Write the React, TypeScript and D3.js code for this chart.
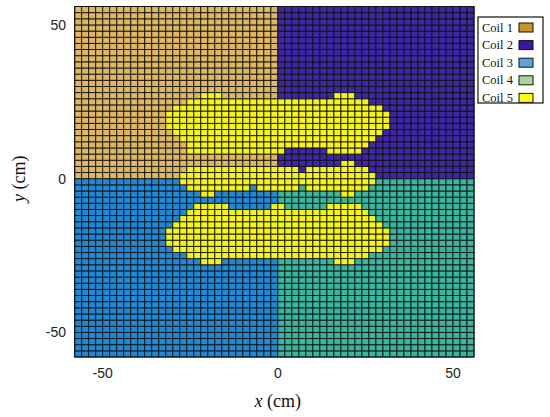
import React from 'react';
import * as d3 from 'd3';

// coil names + colours (legend swatches differ from the map colours, as in the source figure)
const coilNames = ['Coil 1', 'Coil 2', 'Coil 3', 'Coil 4', 'Coil 5'];
const legendColors = ['#c8961e', '#3c14a8', '#5aa5dc', '#a8d898', '#ffff00'];
const cellColors = ['#dfb75e', '#3e26a8', '#1d8ad8', '#35b89f', '#f7f70c'];

const xTicks = [-50, 0, 50];
const yTicks = [-50, 0, 50];

// cell centres (cm), 2 cm pitch
const cellX = d3.range(-57, 56, 2);
const cellY = d3.range(-57, 56, 2);

// coil 5 cells: for each row (y centre, cm) the x-centre spans that belong to coil 5
const coil5Rows: [number, [number, number][]][] = [
  [27, [[-21, -17], [17, 21]]],
  [25, [[-25, 25]]],
  [23, [[-29, 29]]],
  [21, [[-31, 31]]],
  [19, [[-31, 31]]],
  [17, [[-31, 31]]],
  [15, [[-29, 29]]],
  [13, [[-27, 27]]],
  [11, [[-25, 25]]],
  [9, [[-25, 1], [15, 23]]],
  [5, [[19, 21]]],
  [3, [[-25, 5], [9, 25]]],
  [1, [[-27, 27]]],
  [-1, [[-27, 27]]],
  [-3, [[-25, -9], [-5, 5], [9, 25]]],
  [-5, [[-21, -19], [19, 21]]],
  [-9, [[-23, -15], [-1, 1], [15, 23]]],
  [-11, [[-25, 25]]],
  [-13, [[-27, 27]]],
  [-15, [[-29, 29]]],
  [-17, [[-31, 31]]],
  [-19, [[-31, 31]]],
  [-21, [[-31, 31]]],
  [-23, [[-29, 29]]],
  [-25, [[-25, 25]]],
  [-27, [[-21, -17], [17, 21]]],
];

const coil5 = new Map(coil5Rows);

function coilOf(x: number, y: number) {
  const spans = coil5.get(y);
  if (spans && spans.some(([a, b]) => x >= a && x <= b)) return 4;
  if (y > 0) return x < 0 ? 0 : 1;
  return x < 0 ? 2 : 3;
}

export default function App() {
  // set the dimensions of the graph
  const W = 550,
    H = 417;
  const plot = { left: 74.7, right: 474, top: 6.5, bottom: 357 };

  const xScale = d3.scaleLinear().domain([-58, 56]).range([plot.left, plot.right]);
  const yScale = d3.scaleLinear().domain([-58, 56]).range([plot.bottom, plot.top]);

  const cells: { x: number; y: number; c: number }[] = [];
  cellY.forEach((y) => cellX.forEach((x) => cells.push({ x, y, c: coilOf(x, y) })));

  const cw = xScale(1) - xScale(-1);
  const ch = yScale(-1) - yScale(1);

  const legend = { x: 478, y: 17, w: 65, h: 86, step: 17.6 };

  return (
    <svg
      width={W}
      height={H}
      style={{ position: 'absolute', left: 0, top: 0, background: '#fff' }}
    >
      <g>
        {cells.map((d, i) => (
          <rect
            key={i}
            x={xScale(d.x - 1)}
            y={yScale(d.y + 1)}
            width={cw}
            height={ch}
            fill={cellColors[d.c]}
            stroke="#111"
            strokeWidth={0.9}
          />
        ))}
      </g>
      <rect
        x={plot.left}
        y={plot.top}
        width={plot.right - plot.left}
        height={plot.bottom - plot.top}
        fill="none"
        stroke="#111"
        strokeWidth={1}
      />

      {/* axis tick labels */}
      <g fontFamily="Liberation Sans, Arial, sans-serif" fontSize={14} fill="#222">
        {xTicks.map((t) => (
          <text key={'x' + t} x={xScale(t)} y={378} textAnchor="middle">
            {t}
          </text>
        ))}
        {yTicks.map((t) => (
          <text key={'y' + t} x={66} y={yScale(t) + 5} textAnchor="end">
            {t}
          </text>
        ))}
      </g>

      {/* axis titles */}
      <g fontFamily="Liberation Serif, Times New Roman, serif" fontSize={18} fill="#111">
        <text x={xScale(0)} y={407} textAnchor="middle">
          <tspan fontStyle="italic">x</tspan> (cm)
        </text>
        <text
          transform={`translate(25,${yScale(0)}) rotate(-90)`}
          textAnchor="middle"
        >
          <tspan fontStyle="italic">y</tspan> (cm)
        </text>
      </g>

      {/* legend */}
      <g>
        <rect
          x={legend.x}
          y={legend.y}
          width={legend.w}
          height={legend.h}
          fill="#fff"
          stroke="#111"
          strokeWidth={1.2}
        />
        {coilNames.map((name, i) => (
          <g key={name} transform={`translate(0,${legend.y + 10 + i * legend.step})`}>
            <text
              x={legend.x + 4}
              y={4.5}
              fontFamily="Liberation Serif, Times New Roman, serif"
              fontSize={12.5}
              fill="#111"
            >
              {name}
            </text>
            <rect
              x={legend.x + 41}
              y={-4}
              width={14}
              height={9}
              fill={legendColors[i]}
              stroke="#111"
              strokeWidth={1}
            />
          </g>
        ))}
      </g>
    </svg>
  );
}
